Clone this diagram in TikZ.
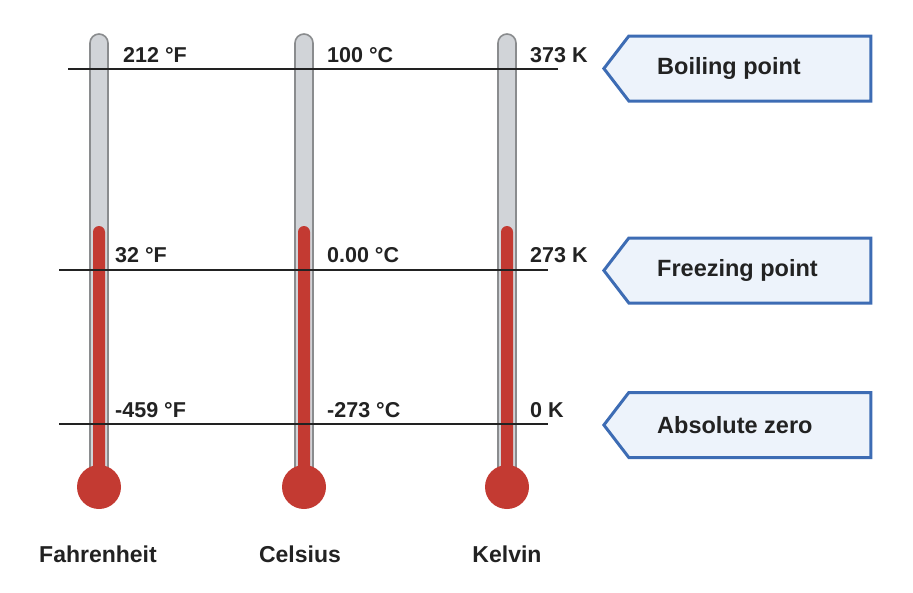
\documentclass[tikz,border=0pt]{standalone}
\usepackage{fontspec}
\setmainfont{Liberation Sans}
\usetikzlibrary{shapes.symbols, positioning}

\definecolor{tubegray}{HTML}{D1D4D8}
\definecolor{tubeedge}{HTML}{8A8C8E}
\definecolor{mercury}{HTML}{C33A32}
\definecolor{tagblue}{HTML}{3D6CB4}
\definecolor{tagfill}{HTML}{EDF3FB}
\definecolor{ink}{HTML}{222222}

\begin{document}
\begin{tikzpicture}[
    x=1pt, y=-1pt,
    tube/.style={fill=tubegray, draw=tubeedge, line width=1.6pt, rounded corners=9pt},
    column/.style={fill=mercury, rounded corners=6pt},
    level/.style={draw=ink, line width=2pt},
    value/.style={anchor=base west, inner sep=0pt, text=ink, font=\fontsize{21.5}{24}\selectfont\bfseries},
    scale name/.style={anchor=base, inner sep=0pt, text=ink, font=\fontsize{23}{26}\selectfont\bfseries},
    tag/.style={signal, signal to=west, signal pointer angle=105, draw=tagblue, fill=tagfill,
        line width=3pt, minimum width=267pt, minimum height=65pt, inner sep=0pt, anchor=west},
    tagtext/.style={anchor=west, inner sep=0pt, text=ink, font=\fontsize{23.5}{26}\selectfont\bfseries}
]
    \useasboundingbox (0,0) rectangle (913,592);

    % thermometers
    \foreach \x/\nm in {99/fahr, 304/cels, 507/kelv} {
        \draw[tube] (\x-9,480) -- (\x-9,34) -- (\x+9,34) -- (\x+9,480);
        \fill[column] (\x-6,480) -- (\x-6,226) -- (\x+6,226) -- (\x+6,480);
        \fill[mercury] (\x,487) circle (22pt);
        \coordinate (\nm) at (\x,487);
    }

    % reference levels
    \draw[level] (68,69) -- (558,69);
    \draw[level] (59,270) -- (548,270);
    \draw[level] (59,424) -- (548,424);

    % values
    \node[value] (f212) at (123,62) {212 °F};
    \node[value] (c100) at (327,62) {100 °C};
    \node[value] (k373) at (530,62) {373 K};
    \node[value] (f32) at (115,262) {32 °F};
    \node[value] (c0) at (327,262) {0.00 °C};
    \node[value] (k273) at (530,262) {273 K};
    \node[value] (f459) at (115,417) {-459 °F};
    \node[value] (c273) at (327,417) {-273 °C};
    \node[value] (k0) at (530,417) {0 K};

    % scale names
    \node[scale name] (fahrname) at (98,562) {Fahrenheit};
    \node[scale name] (celsname) at (300,562) {Celsius};
    \node[scale name] (kelvname) at (507,562) {Kelvin};

    % tags
    \node[tag] (boil) at (602,68.5) {};
    \node[tag] (freeze) at (602,270.5) {};
    \node[tag] (zero) at (602,425) {};
    \node[tagtext] (boiltxt) at ([xshift=55]boil.west) {Boiling point};
    \node[tagtext] (freezetxt) at ([xshift=55]freeze.west) {Freezing point};
    \node[tagtext] (zerotxt) at ([xshift=55]zero.west) {Absolute zero};
\end{tikzpicture}
\end{document}
